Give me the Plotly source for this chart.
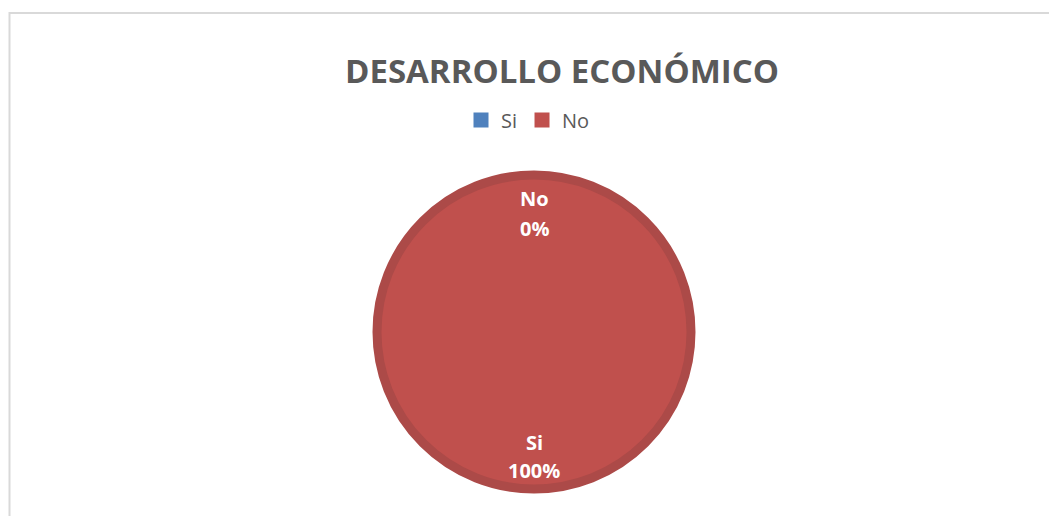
import plotly.graph_objects as go

categories = ["Si", "No"]
slice_values = [100, 0]
percent_labels = ["100%", "0%"]
legend_colors = ["#4F81BD", "#C0504D"]
title_text = "DESARROLLO ECONÓMICO"

W, H = 1049, 516
cx, cy, r = 534, 332, 157

# only non-empty slices are drawn (a 0 slice would add a radial line)
drawn = [(c, v) for c, v in zip(categories, slice_values) if v > 0]

fig = go.Figure()
fig.add_trace(go.Pie(
    labels=[c for c, _ in drawn], values=[v for _, v in drawn],
    marker=dict(colors=["#C0504D"] * len(drawn), line=dict(color="#AC4A48", width=9)),
    textinfo="none", sort=False, showlegend=False, hoverinfo="label+percent",
    domain=dict(x=[(cx - r) / W, (cx + r) / W], y=[1 - (cy + r) / H, 1 - (cy - r) / H]),
))
for name, col in zip(categories, legend_colors):
    fig.add_trace(go.Scatter(x=[None], y=[None], mode="markers", name=name,
                             marker=dict(symbol="square", size=15, color=col)))

# data labels
label_pos = {"No": (cx, 198, 228), "Si": (cx, 442, 470)}
for name, pct in zip(categories, percent_labels):
    x, y1, y2 = label_pos[name]
    for txt, yy in ((name, y1), (pct, y2)):
        fig.add_annotation(x=x / W, y=1 - yy / H, xref="paper", yref="paper",
                           text=f"<b>{txt}</b>", showarrow=False,
                           font=dict(family="Open Sans", size=20, color="white"),
                           xanchor="center", yanchor="middle")

fig.add_annotation(x=562 / W, y=1 - 70 / H, xref="paper", yref="paper",
                   text=f"<b>{title_text}</b>", showarrow=False,
                   font=dict(family="Open Sans", size=33, color="#595959"),
                   xanchor="center", yanchor="middle")

fig.add_shape(type="rect", xref="paper", yref="paper",
              x0=9.5 / W, x1=1.05, y0=-0.05, y1=1 - 13 / H,
              line=dict(color="#D9D9D9", width=2))

fig.update_layout(
    width=W, height=H, margin=dict(l=0, r=0, t=0, b=0),
    paper_bgcolor="white", plot_bgcolor="white",
    xaxis=dict(visible=False), yaxis=dict(visible=False),
    legend=dict(orientation="h", x=528 / W, y=1 - 120 / H, xanchor="center", yanchor="middle",
                font=dict(family="Open Sans", size=20, color="#595959"),
                itemwidth=30, bgcolor="rgba(0,0,0,0)"),
)
fig.write_html("out.html")
